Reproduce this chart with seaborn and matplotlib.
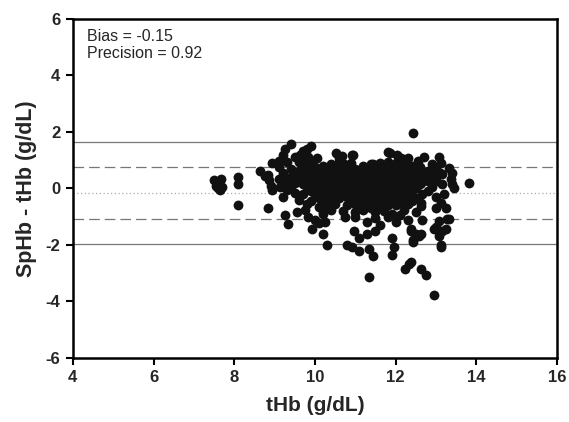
import matplotlib
matplotlib.use("Agg")
import matplotlib.pyplot as plt
import seaborn as sns
import pandas as pd

# ---- data ----
bias = -0.15
precision = 0.92

# dense core: tHb column -> list of SpHb - tHb differences
core_x = [9.1, 9.2, 9.3, 9.4, 9.5, 9.6, 9.7, 9.8, 9.9, 10.0, 10.1, 10.2, 10.3, 10.4,
          10.5, 10.6, 10.7, 10.8, 10.9, 11.0, 11.1, 11.2, 11.3, 11.4, 11.5, 11.6,
          11.7, 11.8, 11.9, 12.0, 12.1, 12.2, 12.3, 12.4, 12.5, 12.6, 12.8, 12.9,
          13.0, 13.1]
core_y = [
    [0.75, 0.35],
    [0.55, 0.15, -0.3],
    [0.95, 0.3, -0.05],
    [0.7, 0.4, 0.1],
    [1.1, 0.5, 0.2, -0.15],
    [0.95, 0.6, 0.3, -0.4],
    [0.8, 0.45, 0.15, -0.2],
    [1.05, 0.7, 0.35, 0.05, -0.55],
    [0.9, 0.55, 0.25, -0.1, -0.45],
    [0.75, 0.4, 0.1, -0.2],
    [0.6, 0.25, -0.05, -0.35, -0.65],
    [0.8, 0.45, 0.15, -0.15, -0.45],
    [0.6, 0.3, 0.0, -0.3, -0.6],
    [0.85, 0.5, 0.2, -0.1, -0.4, -0.75],
    [0.7, 0.35, 0.05, -0.25, -0.55],
    [0.95, 0.55, 0.25, -0.05, -0.35],
    [0.75, 0.4, 0.1, -0.2, -0.8],
    [0.6, 0.3, 0.0, -0.3, -0.6],
    [0.9, 0.5, 0.2, -0.1, -0.4],
    [0.7, 0.35, 0.05, -0.25, -0.55, -0.85],
    [0.55, 0.25, -0.05, -0.35, -0.65],
    [0.8, 0.45, 0.15, -0.15, -0.45, -0.75],
    [0.6, 0.3, 0.0, -0.3, -0.6],
    [0.85, 0.5, 0.2, -0.1, -0.4, -0.7],
    [0.65, 0.35, 0.05, -0.25, -0.55, -0.85],
    [0.9, 0.55, 0.25, -0.05, -0.35, -0.65],
    [0.7, 0.4, 0.1, -0.2, -0.5, -0.8],
    [0.95, 0.6, 0.3, 0.0, -0.3, -0.6],
    [0.75, 0.45, 0.15, -0.15, -0.45, -0.9],
    [0.9, 0.6, 0.3, 0.0, -0.3, -0.6],
    [0.7, 0.4, 0.1, -0.2, -0.5],
    [0.85, 0.55, 0.25, -0.05, -0.4, -0.75],
    [0.65, 0.35, 0.05, -0.25, -0.55],
    [0.8, 0.5, 0.2, -0.1, -0.45],
    [0.6, 0.3, 0.0, -0.35],
    [0.75, 0.45, 0.15],
    [0.6, 0.25, -0.1],
    [0.85, 0.4, 0.05],
    [0.7, 0.3, -0.3],
    [0.55],
]

# scattered points outside the core
edge_x = [7.50, 7.55, 7.60, 7.65, 7.68, 7.58, 7.70, 8.10, 8.10, 8.10,
          8.63, 8.75, 8.83, 8.93, 8.85, 8.90, 8.93, 9.13, 9.33, 8.83,
          9.41, 9.91, 9.70, 9.62, 9.25, 9.20, 9.12, 9.82, 10.04, 10.53,
          10.60, 10.73, 9.80, 10.93, 11.80, 12.04, 12.14, 11.43, 12.42, 12.30,
          12.55, 12.71, 13.08, 13.13, 10.68, 10.95, 11.85,
          9.25, 9.33, 9.55, 9.75, 9.83, 9.92, 10.11, 10.19, 10.19, 10.31,
          10.80, 10.20, 10.25, 10.00, 10.75, 10.98, 11.10, 11.28, 11.48, 10.93,
          11.10, 11.35, 11.43, 11.90, 11.97, 11.92, 12.39, 12.42, 12.59, 12.51,
          11.33, 12.94, 12.22, 12.34, 12.64, 12.74, 13.13, 13.08, 13.28, 13.00,
          13.26, 13.83, 13.45, 13.40, 13.38, 13.33, 13.40, 13.16, 13.00, 13.16,
          13.20, 12.66, 12.76, 12.64, 12.66, 13.13, 13.26, 13.00, 13.33, 13.08,
          12.96, 13.16, 12.64, 12.64, 12.39, 12.51, 12.64, 12.42, 13.13, 12.39,
          12.30, 12.65, 11.00, 11.50, 11.80, 12.10, 11.30, 11.60, 12.00]
edge_y = [0.30, 0.10, 0.00, -0.05, 0.35, 0.20, 0.05, 0.40, 0.15, -0.58,
          0.62, 0.45, 0.48, 0.89, 0.30, 0.10, -0.05, 0.05, 0.20, -0.68,
          1.57, 1.49, 1.31, 1.20, 1.38, 1.20, 0.96, 1.13, 1.06, 1.24,
          1.06, 0.85, 1.40, 1.17, 1.28, 1.17, 1.06, 0.85, 1.96, 1.08,
          0.98, 1.13, 1.13, 0.89, 1.15, 1.20, 1.27,
          -0.95, -1.27, -0.85, -0.78, -1.00, -1.42, -1.24, -0.92, -1.60, -1.99,
          -1.99, -0.85, -1.20, -1.13, -1.00, -1.52, -1.77, -1.63, -1.52, -2.06,
          -2.23, -2.13, -2.41, -1.77, -2.06, -2.34, -1.52, -1.88, -1.70, -0.82,
          -3.12, -3.79, -2.84, -2.66, -2.84, -3.05, -1.99, -1.70, -1.10, -1.35,
          -1.45, 0.18, 0.00, 0.14, 0.32, 0.71, 0.53, 0.50, 0.25, 0.14,
          -0.18, 0.50, 0.53, 0.18, -0.18, -0.53, -0.71, -0.71, -1.10, -1.17,
          -1.42, -1.52, -0.53, -0.64, -1.42, -1.63, -1.60, -1.81, -2.06, -2.59,
          -1.12, -1.12, -1.00, -1.05, -1.00, -0.95, -1.20, -1.30, -1.20]

x_ticks = [4, 6, 8, 10, 12, 14, 16]
y_ticks = [-6, -4, -2, 0, 2, 4, 6]

# ---- build table ----
xs, ys = [], []
for cx, col in zip(core_x, core_y):
    for v in col:
        xs.append(cx)
        ys.append(v)
xs += edge_x
ys += edge_y
df = pd.DataFrame({"tHb": xs, "diff": ys})

# ---- plot ----
sns.set_style("white")
plt.rcParams["font.family"] = ["Liberation Sans", "DejaVu Sans"]

fig = plt.figure(figsize=(5.69, 4.22), dpi=100)
ax = fig.add_axes([0.128, 0.152, 0.851, 0.803])

for yv, ls, lw, c in [
    (bias + 1.96 * precision, "-", 0.9, "#777777"),
    (bias + precision, (0, (8.5, 4)), 0.9, "#777777"),
    (bias, (0, (1, 2)), 0.9, "#aaaaaa"),
    (bias - precision, (0, (8.5, 4)), 0.9, "#777777"),
    (bias - 1.96 * precision, "-", 0.9, "#777777"),
]:
    ax.axhline(yv, linestyle=ls, linewidth=lw, color=c, zorder=1)

sns.scatterplot(data=df, x="tHb", y="diff", ax=ax, color="#111111", s=50,
                edgecolor="#111111", linewidth=0, zorder=3, legend=False)

ax.set_xlim(4, 16)
ax.set_ylim(-6, 6)
ax.set_xticks(x_ticks)
ax.set_yticks(y_ticks)
ax.set_xticklabels([str(t) for t in x_ticks], fontweight="bold", fontsize=12)
ax.set_yticklabels([str(t) for t in y_ticks], fontweight="bold", fontsize=12)
ax.tick_params(axis="both", direction="out", length=5, width=1.5, color="black",
               bottom=True, left=True, top=False, right=False, pad=4)
for sp in ax.spines.values():
    sp.set_visible(True)
    sp.set_color("black")
    sp.set_linewidth(1.8)

ax.set_xlabel("tHb (g/dL)", fontweight="bold", fontsize=15, labelpad=8)
ax.set_ylabel("SpHb - tHb (g/dL)", fontweight="bold", fontsize=15.5, labelpad=6)

ax.text(0.03, 0.97, f"Bias = {bias:.2f}\nPrecision = {precision:.2f}",
        transform=ax.transAxes, ha="left", va="top", fontsize=11.5,
        linespacing=1.15)

fig.savefig("out.png", dpi=100)
